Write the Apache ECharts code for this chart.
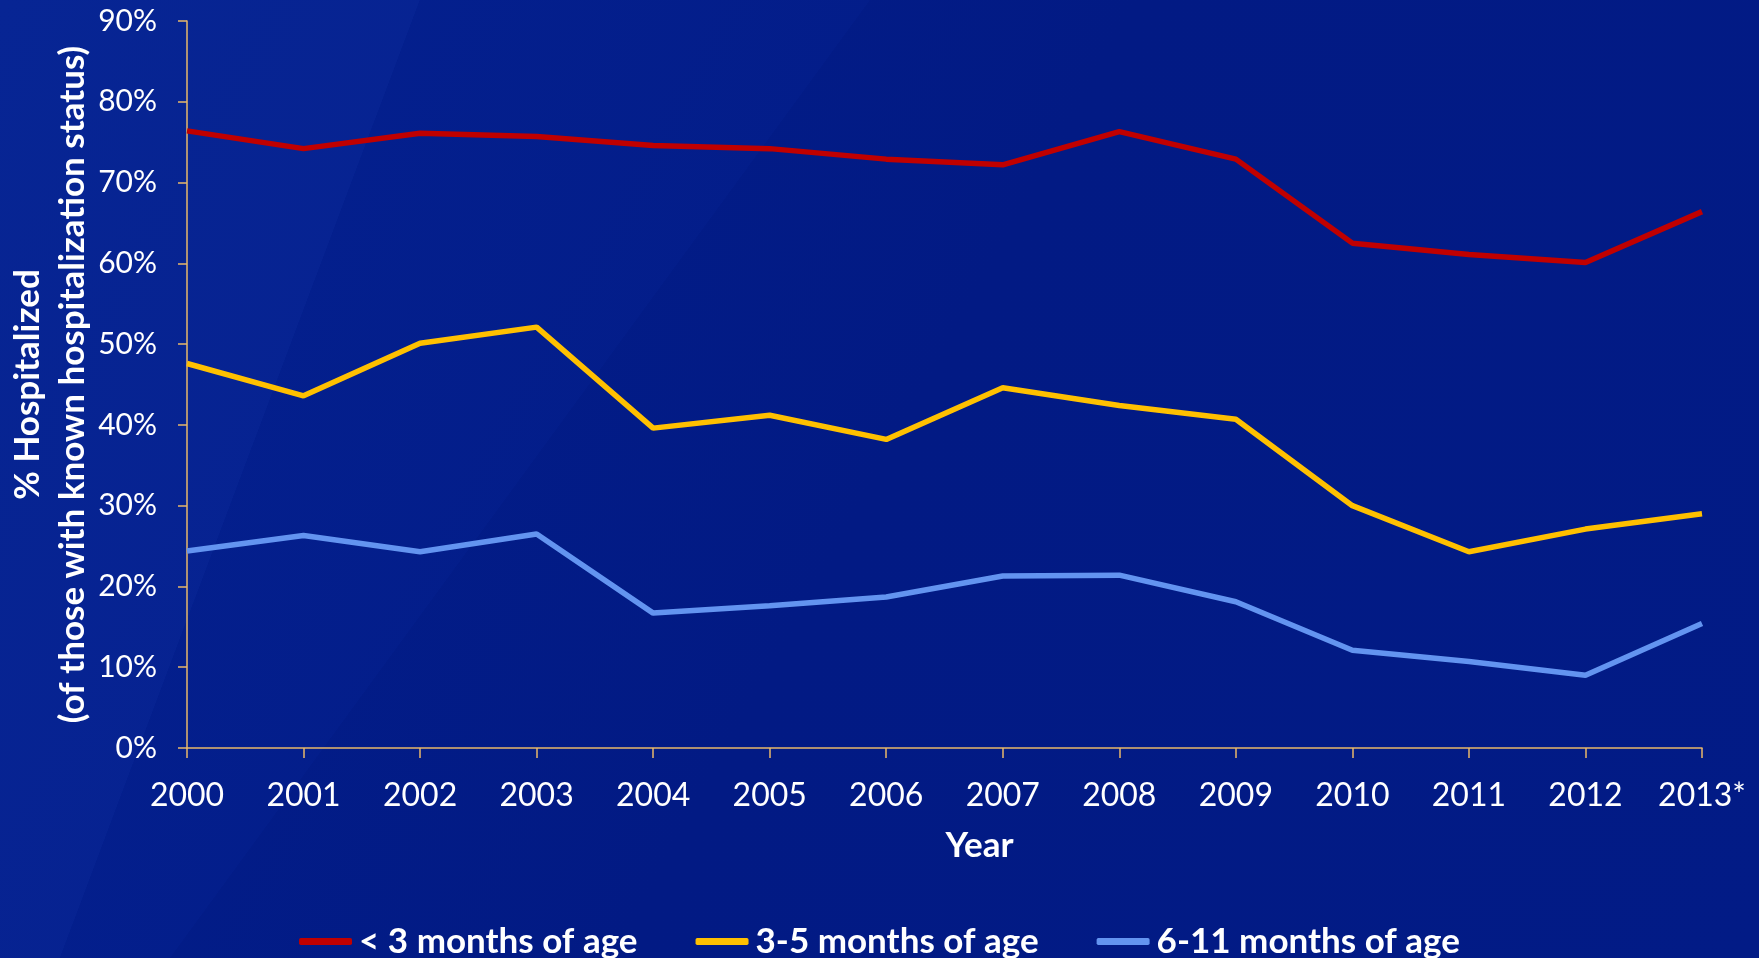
<!DOCTYPE html>
<html>
<head>
<meta charset="utf-8">
<script src="https://cdn.jsdelivr.net/npm/echarts@6/dist/echarts.min.js"></script>
<style>
html,body{margin:0;padding:0;background:#021a84;}
#chart{width:1759px;height:958px;}
</style>
</head>
<body>
<div id="chart"></div>
<script>
const years = ['2000','2001','2002','2003','2004','2005','2006','2007','2008','2009','2010','2011','2012','2013*'];
const under3 = [76.4, 74.2, 76.1, 75.7, 74.6, 74.2, 72.9, 72.2, 76.3, 72.9, 62.5, 61.1, 60.1, 66.4];
const m3to5 = [47.6, 43.6, 50.1, 52.1, 39.6, 41.2, 38.2, 44.6, 42.4, 40.7, 30.0, 24.3, 27.1, 29.0];
const m6to11 = [24.4, 26.3, 24.3, 26.5, 16.7, 17.6, 18.7, 21.3, 21.4, 18.1, 12.1, 10.7, 9.0, 15.4];
const seriesNames = ['< 3 months of age', '3-5 months of age', '6-11 months of age'];
const yTicks = [0, 10, 20, 30, 40, 50, 60, 70, 80, 90];

const FONT = 'Lato';
const chart = echarts.init(document.getElementById('chart'));
chart.setOption({
  backgroundColor: {
    type: 'linear', x: 0, y: 0, x2: 1, y2: 1,
    colorStops: [{offset: 0, color: '#031f8c'}, {offset: 0.5, color: '#021a84'}, {offset: 1, color: '#021b86'}]
  },
  graphic: [
    { type: 'polygon', silent: true, z: -10,
      shape: { points: [[0,0],[420,0],[60,958],[0,958]] },
      style: { fill: 'rgba(30,70,190,0.16)' } },
    { type: 'polygon', silent: true, z: -10,
      shape: { points: [[420,0],[870,0],[170,958],[60,958]] },
      style: { fill: 'rgba(30,70,190,0.08)' } }
  ],
  animation: false,
  grid: { left: 187, right: 57, top: 21, bottom: 210, outerBoundsMode: 'none', containLabel: false },
  legend: {
    data: seriesNames,
    left: 'center',
    top: 919,
    itemWidth: 53,
    itemHeight: 7,
    itemGap: 58,
    icon: 'roundRect',
    textStyle: { color: '#ffffff', fontFamily: FONT, fontWeight: 'bold', fontSize: 35, padding: [0,0,0,2] }
  },
  xAxis: {
    type: 'category',
    data: years,
    boundaryGap: false,
    name: 'Year',
    nameLocation: 'middle',
    nameGap: 80,
    nameMoveOverlap: false,
    nameTextStyle: { color: '#ffffff', fontFamily: FONT, fontWeight: 'bold', fontSize: 35, padding: [0,0,0,70] },
    axisLine: { lineStyle: { color: '#e9b86a', width: 1.5 } },
    axisTick: { show: true, length: 10, lineStyle: { color: '#e9b86a', width: 1.5 } },
    axisLabel: { color: '#ffffff', fontFamily: FONT, fontSize: 32, margin: 32 },
    splitLine: { show: false }
  },
  yAxis: {
    type: 'value',
    min: yTicks[0],
    max: yTicks[yTicks.length - 1],
    interval: 10,
    name: '% Hospitalized\n(of those with known hospitalization status)',
    nameLocation: 'middle',
    nameGap: 92,
    nameMoveOverlap: false,
    nameTextStyle: { color: '#ffffff', fontFamily: FONT, fontWeight: 'bold', fontSize: 35, lineHeight: 45 },
    axisLine: { show: true, lineStyle: { color: '#e9b86a', width: 1.5 } },
    axisTick: { show: true, length: 9, lineStyle: { color: '#e9b86a', width: 1.5 } },
    axisLabel: { color: '#ffffff', fontFamily: FONT, fontSize: 30, margin: 30, formatter: '{value}%' },
    splitLine: { show: false }
  },
  series: [
    { name: seriesNames[0], type: 'line', data: under3, symbol: 'none', color: '#c00000', lineStyle: { width: 5.5, color: '#c00000' } },
    { name: seriesNames[1], type: 'line', data: m3to5, symbol: 'none', color: '#ffc000', lineStyle: { width: 5.5, color: '#ffc000' } },
    { name: seriesNames[2], type: 'line', data: m6to11, symbol: 'none', color: '#6394f0', lineStyle: { width: 5.5, color: '#6394f0' } }
  ]
});
</script>
</body>
</html>
